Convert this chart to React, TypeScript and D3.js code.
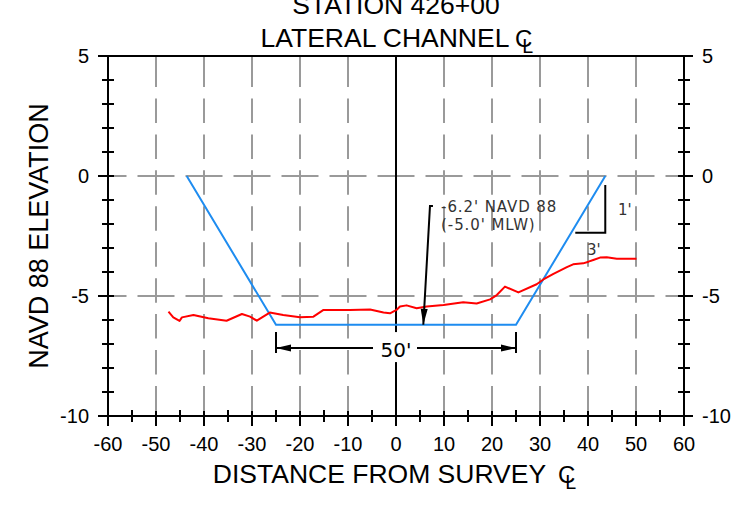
import React from "react";
import * as d3 from "d3";

// ---- data ----
const groundX = [-47.4, -46.4, -45.1, -44.6, -42.2, -39.1, -35.3, -32.1, -30.4, -29.0, -26.3, -23.5, -20.0, -17.2, -15.1, -9.6, -5.4, -2.6, -1.25, 0.1, 0.83, 2.2, 4.3, 6.4, 9.9, 14.0, 16.8, 19.6, 21.0, 22.7, 25.5, 29.3, 30.7, 32.8, 35.6, 36.9, 39.0, 40.1, 41.1, 42.5, 43.9, 46.0, 50.1];
const groundY = [-5.65, -5.89, -6.04, -5.89, -5.79, -5.93, -6.03, -5.75, -5.86, -6.03, -5.69, -5.79, -5.89, -5.86, -5.58, -5.58, -5.56, -5.69, -5.72, -5.58, -5.44, -5.39, -5.51, -5.44, -5.375, -5.26, -5.31, -5.14, -4.96, -4.61, -4.85, -4.51, -4.31, -4.08, -3.8, -3.68, -3.64, -3.57, -3.5, -3.4, -3.39, -3.45, -3.45];
const templateX = [-43.6, -25, 25, 43.6];
const templateY = [0, -6.2, -6.2, 0];
const xTicks = [-60, -50, -40, -30, -20, -10, 0, 10, 20, 30, 40, 50, 60];
const yTicks = [5, 0, -5, -10];
const xGrid = [-50, -40, -30, -20, -10, 10, 20, 30, 40, 50];
const yGrid = [0, -5];
const titleLines = ["STATION 426+00", "LATERAL CHANNEL"];
const xTitle = "DISTANCE FROM SURVEY";
const yTitle = "NAVD 88 ELEVATION";
const noteLines = ["-6.2' NAVD 88", "(-5.0' MLW)"];
const bottomWidthLabel = "50'";

const W = 732, H = 527;
const L = 108, R = 684, T = 56, B = 416;
const x = d3.scaleLinear().domain([-60, 60]).range([L, R]);
const y = d3.scaleLinear().domain([-10, 5]).range([B, T]);

const SANS = "'Liberation Sans', Arial, sans-serif";
const DJ = "'DejaVu Sans', sans-serif";
const GRID = "#9a9a9a";

function vDash(): string {
  const total = B - T;
  const end1 = 31, end2 = 30, d = 24.5, n = 8;
  const g = (total - end1 - end2 - n * d) / (n + 1);
  const arr: number[] = [end1];
  for (let i = 0; i < n; i++) arr.push(g, d);
  arr.push(g, end2 + 5);
  return arr.map((v) => v.toFixed(2)).join(" ");
}

function arrowHead(tx: number, ty: number, fx: number, fy: number, len = 15, hw = 3.5) {
  const dx = tx - fx, dy = ty - fy;
  const m = Math.hypot(dx, dy);
  const ux = dx / m, uy = dy / m;
  const bx = tx - ux * len, by = ty - uy * len;
  const px = -uy * hw, py = ux * hw;
  return `M${tx},${ty}L${bx + px},${by + py}L${bx - px},${by - py}Z`;
}

// centerline symbol: "C" with an overlapping, lowered "L"
function CLSym({ px, py, size }: { px: number; py: number; size: number }) {
  return (
    <g>
      <text x={px} y={py} fontFamily={SANS} fontSize={size} fill="#000">C</text>
      <text x={px + size * 0.3} y={py + size * 0.24} fontFamily={SANS} fontSize={size * 0.82} fill="#000">L</text>
    </g>
  );
}

export default function App() {
  const ground = groundX.map((v, i) => [x(v), y(groundY[i])] as [number, number]);
  const tmpl = templateX.map((v, i) => [x(v), y(templateY[i])] as [number, number]);
  const line = d3.line();

  const minorY = d3.range(-10, 5.001, 1);
  const minorX = d3.range(-55, 60, 10);

  const dimY = y(-7.17);
  const dxL = x(-25), dxR = x(25);
  const lead0 = [x(7.7), y(-1.25)];
  const lead1 = [x(7.08), y(-1.25)];
  const leadTip = [x(5.69), y(-6.2)];

  return (
    <svg width={W} height={H} style={{ position: "absolute", left: 0, top: 0, background: "#fff" }}>
      <rect x={0} y={0} width={W} height={H} fill="#fff" />
      {xGrid.map((v) => (
        <line key={"vg" + v} x1={x(v)} x2={x(v)} y1={T} y2={B} stroke={GRID} strokeWidth={2} strokeDasharray={vDash()} />
      ))}
      {yGrid.map((v) => (
        <line key={"hg" + v} x1={L} x2={R} y1={y(v)} y2={y(v)} stroke={GRID} strokeWidth={2} strokeDasharray="37 11" strokeDashoffset={18.5} />
      ))}

      <line x1={x(0)} x2={x(0)} y1={T} y2={B} stroke="#000" strokeWidth={2} />

      <path d={line(tmpl) || ""} fill="none" stroke="#1e8cf0" strokeWidth={2} />
      <path d={line(ground) || ""} fill="none" stroke="#ff0000" strokeWidth={2} strokeLinejoin="round" />

      <line x1={dxL} x2={dxL} y1={y(-6.5)} y2={y(-7.38)} stroke="#000" strokeWidth={2} />
      <line x1={dxR} x2={dxR} y1={y(-6.5)} y2={y(-7.38)} stroke="#000" strokeWidth={2} />
      <rect x={x(0) - 22} y={dimY - 16} width={44} height={30} fill="#fff" />
      <line x1={dxL} x2={x(0) - 23} y1={dimY} y2={dimY} stroke="#000" strokeWidth={2} />
      <line x1={x(0) + 21} x2={dxR} y1={dimY} y2={dimY} stroke="#000" strokeWidth={2} />
      <path d={arrowHead(dxL, dimY, dxL + 20, dimY, 15, 3.5)} fill="#000" />
      <path d={arrowHead(dxR, dimY, dxR - 20, dimY, 15, 3.5)} fill="#000" />
      <text x={x(0)} y={dimY + 9} textAnchor="middle" fontFamily={DJ} fontSize={20} fill="#000">
        {bottomWidthLabel}
      </text>

      <path d={`M${lead0[0]},${lead0[1]}L${lead1[0]},${lead1[1]}L${leadTip[0]},${leadTip[1]}`} fill="none" stroke="#000" strokeWidth={2} />
      <path d={arrowHead(leadTip[0], leadTip[1], lead1[0], lead1[1], 16, 3.5)} fill="#000" />
      {noteLines.map((t, i) => (
        <text key={t} x={x(9.4)} y={y(-1.49) + i * 18} fontFamily={DJ} fontSize={15} letterSpacing={0.9} fill="#333">
          {t}
        </text>
      ))}

      <path d={`M${x(43.6)},${y(-0.375)}L${x(43.6)},${y(-2.36)}L${x(37.35)},${y(-2.36)}`} fill="none" stroke="#000" strokeWidth={2} />
      <text x={x(46.25)} y={y(-1.625)} fontFamily={DJ} fontSize={15} fill="#333">1'</text>
      <text x={x(39.8)} y={y(-3.29)} fontFamily={DJ} fontSize={15} fill="#333">3'</text>

      <line x1={L} x2={R} y1={T} y2={T} stroke="#000" strokeWidth={2} />
      <line x1={L} x2={R} y1={B} y2={B} stroke="#000" strokeWidth={2} />
      <line x1={L} x2={L} y1={T} y2={B + 10} stroke="#000" strokeWidth={2} />
      <line x1={R} x2={R} y1={T} y2={B + 10} stroke="#000" strokeWidth={2} />

      {minorY.map((v) => {
        const major = Math.abs(v % 5) < 1e-6;
        return (
          <g key={"yt" + v}>
            <line x1={L - (major ? 10 : 6)} x2={L + 6} y1={y(v)} y2={y(v)} stroke="#000" strokeWidth={2} />
            <line x1={R - 6} x2={R + (major ? 9 : 6)} y1={y(v)} y2={y(v)} stroke="#000" strokeWidth={2} />
          </g>
        );
      })}
      {xTicks.map((v) => (
        <line key={"xt" + v} x1={x(v)} x2={x(v)} y1={B - 5} y2={B + 10} stroke="#000" strokeWidth={2} />
      ))}
      {minorX.map((v) => (
        <line key={"xm" + v} x1={x(v)} x2={x(v)} y1={B - 6} y2={B + 6} stroke="#000" strokeWidth={2} />
      ))}

      {xTicks.map((v) => (
        <text key={"xl" + v} x={x(v)} y={B + 35} textAnchor="middle" fontFamily={SANS} fontSize={20} fill="#000">
          {v}
        </text>
      ))}
      {yTicks.map((v) => (
        <g key={"yl" + v}>
          <text x={L - 19} y={y(v) + 7.2} textAnchor="end" fontFamily={SANS} fontSize={20} fill="#000">{v}</text>
          <text x={R + 18} y={y(v) + 7.2} textAnchor="start" fontFamily={SANS} fontSize={20} fill="#000">{v}</text>
        </g>
      ))}

      <text x={396} y={13.5} textAnchor="middle" fontFamily={SANS} fontSize={26.5} fill="#000">{titleLines[0]}</text>
      <text x={385} y={47} textAnchor="middle" fontFamily={SANS} fontSize={26.5} fill="#000">{titleLines[1]}</text>
      <CLSym px={515} py={47} size={24} />
      <text x={379.5} y={483} textAnchor="middle" fontFamily={SANS} fontSize={26.5} fill="#000">{xTitle}</text>
      <CLSym px={558} py={483} size={24} />
      <text transform={`translate(48,${(T + B) / 2}) rotate(-90)`} textAnchor="middle" fontFamily={SANS} fontSize={27} fill="#000">
        {yTitle}
      </text>
    </svg>
  );
}
